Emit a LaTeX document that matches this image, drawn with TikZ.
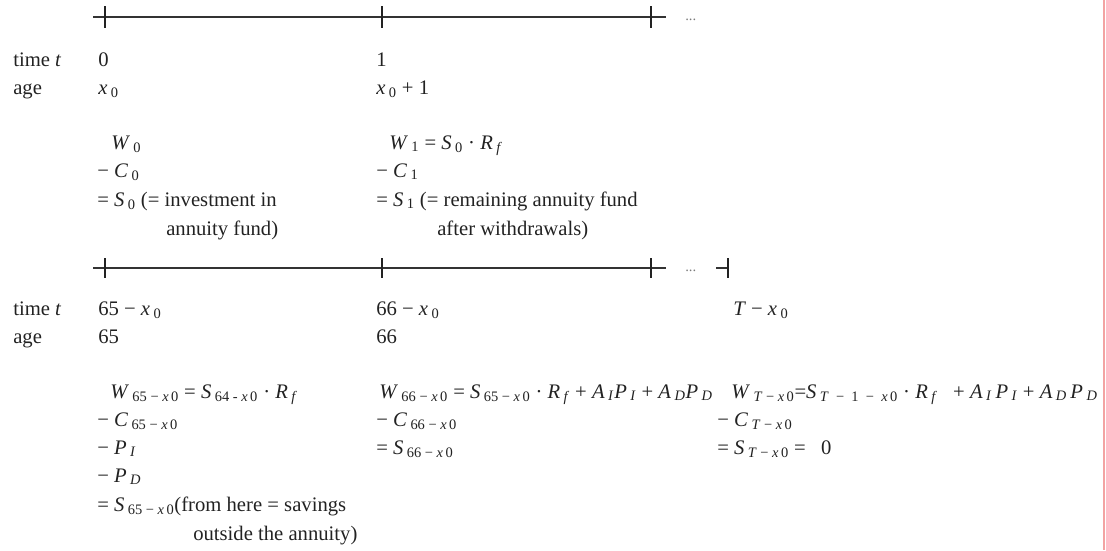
\documentclass[tikz,border=0pt]{standalone}
\usepackage{fontspec}
\setmainfont{Liberation Serif}
\definecolor{tlInk}{HTML}{222222}
\definecolor{tlLine}{HTML}{333333}
\definecolor{tlMargin}{HTML}{F3A3A3}
\newcommand{\lo}[1]{\,\textsubscript{#1}}
\newcommand{\vr}[1]{\textit{#1}}
\newcommand{\xo}{\textit{x}\,0}
\tikzset{
  tl axis/.style={draw=tlLine, line width=2.2pt},
  tl tick/.style={draw=tlInk, line width=1.3pt},
  tl label/.style={anchor=base west, inner sep=0pt, text=tlInk, font=\fontsize{15.5}{18}\selectfont},
  tl dots/.style={anchor=base west, inner sep=0pt, text=tlInk!60, font=\fontsize{11}{12}\selectfont},
  tl margin/.style={draw=tlMargin, line width=1.1pt},
}

\begin{document}
\begin{tikzpicture}[x=0.75pt,y=-0.75pt]
  \useasboundingbox (0,0) rectangle (1106,550);
  \draw[tl margin] (1104,0) -- (1104,550);

  \coordinate (axA west) at (93,17);
  \coordinate (axA east) at (666,17);
  \draw[tl axis] (axA west) -- (axA east);
  \draw[tl tick] (105,6) -- (105,28);
  \draw[tl tick] (382,6) -- (382,28);
  \draw[tl tick] (651,6) -- (651,28);
  \node[tl dots] (dotsA) at (685,20) {...};

  \node[tl label] (timeA) at (13,66) {time \vr{t}};
  \node[tl label] (ageA) at (13,94) {age};
  \node[tl label] (tA0) at (98,66) {0};
  \node[tl label] (aA0) at (98,94) {\vr{x}\lo{0}};
  \node[tl label] (tA1) at (376,66) {1};
  \node[tl label] (aA1) at (376,94) {\vr{x}\lo{0} + 1};

  \node[tl label] (wA0) at (111,149) {\vr{W}\lo{0}};
  \node[tl label] (cA0) at (97,177) {− \vr{C}\lo{0}};
  \node[tl label] (sA0) at (97,206) {= \vr{S}\lo{0} (= investment in};
  \node[tl label] (sA0 note) at (166,235) {annuity fund)};
  \node[tl label] (wA1) at (389,149) {\vr{W}\lo{1} = \vr{S}\lo{0} · \vr{R}\lo{\vr{f}}};
  \node[tl label] (cA1) at (376,177) {− \vr{C}\lo{1}};
  \node[tl label] (sA1) at (376,206) {= \vr{S}\lo{1} (= remaining annuity fund};
  \node[tl label] (sA1 note) at (437,235) {after withdrawals)};

  \coordinate (axB west) at (93,268);
  \coordinate (axB east) at (666,268);
  \draw[tl axis] (axB west) -- (axB east);
  \draw[tl tick] (105,258) -- (105,278);
  \draw[tl tick] (382,258) -- (382,278);
  \draw[tl tick] (651,258) -- (651,278);
  \node[tl dots] (dotsB) at (685,271) {...};
  \coordinate (axC west) at (716,268);
  \coordinate (axC east) at (728,268);
  \draw[tl axis] (axC west) -- (axC east);
  \draw[tl tick] (728,258) -- (728,278);

  \node[tl label] (timeB) at (13,315) {time \vr{t}};
  \node[tl label] (ageB) at (13,343) {age};
  \node[tl label] (tB0) at (98,315) {65 − \vr{x}\lo{0}};
  \node[tl label] (aB0) at (98,343) {65};
  \node[tl label] (tB1) at (376,315) {66 − \vr{x}\lo{0}};
  \node[tl label] (aB1) at (376,343) {66};
  \node[tl label] (tBT) at (733,315) {\vr{T} − \vr{x}\lo{0}};

  \node[tl label] (wB0) at (110,398) {\vr{W}\lo{65 − \xo} = \vr{S}\lo{64 - \xo} · \vr{R}\lo{\vr{f}}};
  \node[tl label] (cB0) at (97,426) {− \vr{C}\lo{65 − \xo}};
  \node[tl label] (piB0) at (97,454) {− \vr{P}\lo{\vr{I}}};
  \node[tl label] (pdB0) at (97,482) {− \vr{P}\lo{\vr{D}}};
  \node[tl label] (sB0) at (97,511) {= \vr{S}\lo{65 − \xo}(from here = savings};
  \node[tl label] (sB0 note) at (193,540) {outside the annuity)};

  \node[tl label] (wB1) at (379,398) {\vr{W}\lo{66 − \xo} = \vr{S}\lo{65 − \xo} · \vr{R}\lo{\vr{f}} + \vr{A}\lo{\vr{I}}\vr{P}\lo{\vr{I}} + \vr{A}\lo{\vr{D}}\vr{P}\lo{\vr{D}}};
  \node[tl label] (cB1) at (376,426) {− \vr{C}\lo{66 − \xo}};
  \node[tl label] (sB1) at (376,454) {= \vr{S}\lo{66 − \xo}};

  \node[tl label] (wBT) at (731,398) {\vr{W}\lo{\vr{T} − \xo}=\vr{S}\lo{\vr{T}\enspace−\enspace1\enspace−\enspace\xo} · \vr{R}\lo{\vr{f}} \enspace+ \vr{A}\lo{\vr{I}}\,\vr{P}\lo{\vr{I}} + \vr{A}\lo{\vr{D}}\,\vr{P}\lo{\vr{D}}};
  \node[tl label] (cBT) at (717,426) {− \vr{C}\lo{\vr{T} − \xo}};
  \node[tl label] (sBT) at (717,454) {= \vr{S}\lo{\vr{T} − \xo} = \enspace 0};
\end{tikzpicture}
\end{document}
